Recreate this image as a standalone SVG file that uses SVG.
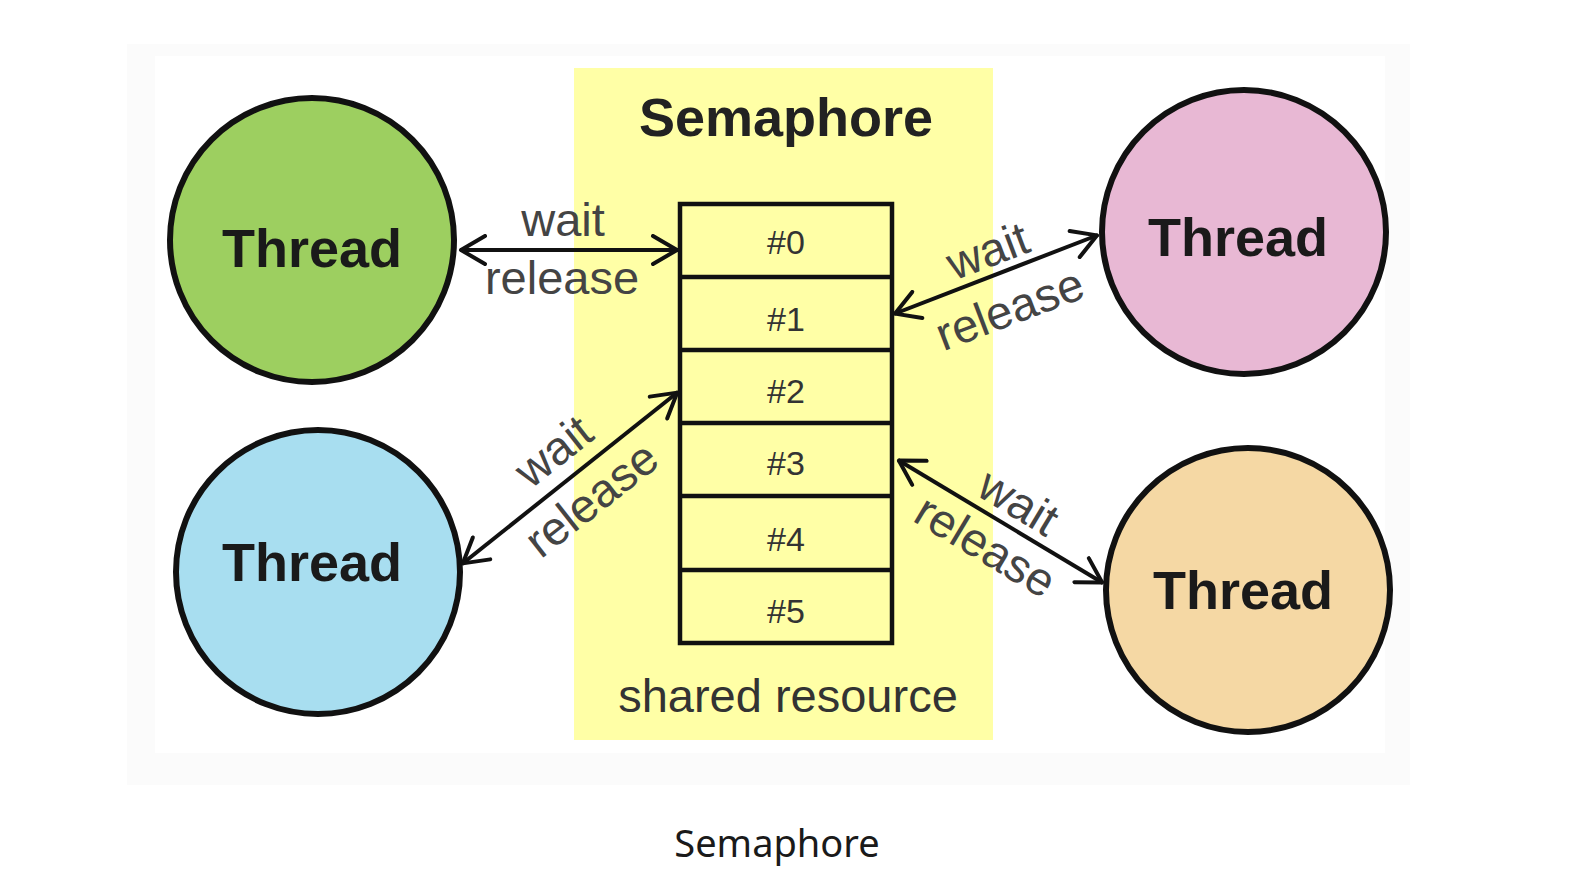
<svg xmlns="http://www.w3.org/2000/svg" width="1570" height="870" viewBox="0 0 1570 870">
<style>
.thread{stroke:#111;stroke-width:6}
.tt{font-family:"Liberation Sans",Arial,sans-serif;font-weight:bold;font-size:54px;fill:#1a1a1a;text-anchor:middle}
.cell{fill:none;stroke:#111;stroke-width:4.5}
.num{font-family:"Liberation Sans",Arial,sans-serif;font-size:34px;fill:#333;text-anchor:middle}
.lbl{font-family:"Liberation Sans",Arial,sans-serif;font-size:47px;fill:#444;text-anchor:middle}
.conn{stroke:#111;stroke-width:4;fill:none;marker-start:url(#arr);marker-end:url(#arr)}
</style>
<defs>
<marker id="arr" viewBox="0 0 30 32" refX="28" refY="16" markerWidth="30" markerHeight="32" markerUnits="userSpaceOnUse" orient="auto-start-reverse">
<path d="M3,2 L27,16 L3,30" fill="none" stroke="#111" stroke-width="4" stroke-linecap="round" stroke-linejoin="round"/>
</marker>
</defs>
<rect width="1570" height="870" fill="#ffffff"/>
<rect x="127" y="44" width="1283" height="741" fill="#fbfbfb"/>
<rect x="155" y="56" width="1230" height="697" fill="#ffffff"/>
<g id="semaphore">
<rect x="574" y="68" width="419" height="672" fill="#ffffa6"/>
<text x="786" y="136" class="tt" style="fill:#222">Semaphore</text>
<text x="788" y="712" class="lbl" style="fill:#333">shared resource</text>
</g>
<g id="slots">
<rect x="680" y="204" width="212" height="439" class="cell"/>
<line x1="680" y1="277" x2="892" y2="277" class="cell"/>
<line x1="680" y1="350" x2="892" y2="350" class="cell"/>
<line x1="680" y1="423" x2="892" y2="423" class="cell"/>
<line x1="680" y1="496" x2="892" y2="496" class="cell"/>
<line x1="680" y1="570" x2="892" y2="570" class="cell"/>
<text x="786" y="254" class="num">#0</text>
<text x="786" y="331" class="num">#1</text>
<text x="786" y="403" class="num">#2</text>
<text x="786" y="475" class="num">#3</text>
<text x="786" y="551" class="num">#4</text>
<text x="786" y="623" class="num">#5</text>
</g>
<g id="thread-green">
<circle cx="312" cy="240" r="142" fill="#9dcf60" class="thread"/>
<text x="312" y="267" class="tt">Thread</text>
</g>
<g id="thread-blue">
<circle cx="318" cy="572" r="142" fill="#a8def0" class="thread"/>
<text x="312" y="581" class="tt">Thread</text>
</g>
<g id="thread-pink">
<circle cx="1244" cy="232" r="142" fill="#e8b8d4" class="thread"/>
<text x="1238" y="256" class="tt">Thread</text>
</g>
<g id="thread-orange">
<circle cx="1248" cy="590" r="142" fill="#f5d8a4" class="thread"/>
<text x="1243" y="609" class="tt">Thread</text>
</g>
<g id="connectors">
<line x1="460" y1="250" x2="678" y2="250" class="conn"/>
<line x1="894" y1="314" x2="1098" y2="235" class="conn"/>
<line x1="462" y1="564" x2="678" y2="392" class="conn"/>
<line x1="898" y1="460" x2="1103" y2="583" class="conn"/>
<text x="563" y="236" class="lbl">wait</text>
<text x="562" y="294" class="lbl">release</text>
<g transform="translate(988,252) rotate(-20.8)"><text y="15" class="lbl">wait</text></g>
<g transform="translate(1010,310) rotate(-20.8)"><text y="15" class="lbl">release</text></g>
<g transform="translate(554,452) rotate(-38.2)"><text y="15" class="lbl">wait</text></g>
<g transform="translate(592,500) rotate(-38.2)"><text y="15" class="lbl">release</text></g>
<g transform="translate(1018,503) rotate(31)"><text y="15" class="lbl">wait</text></g>
<g transform="translate(985,547) rotate(31)"><text y="15" class="lbl">release</text></g>
</g>
<text x="777" y="857" style="font-family:'Noto Sans',sans-serif;font-size:38px;fill:#1a1a1a;text-anchor:middle">Semaphore</text>
</svg>
